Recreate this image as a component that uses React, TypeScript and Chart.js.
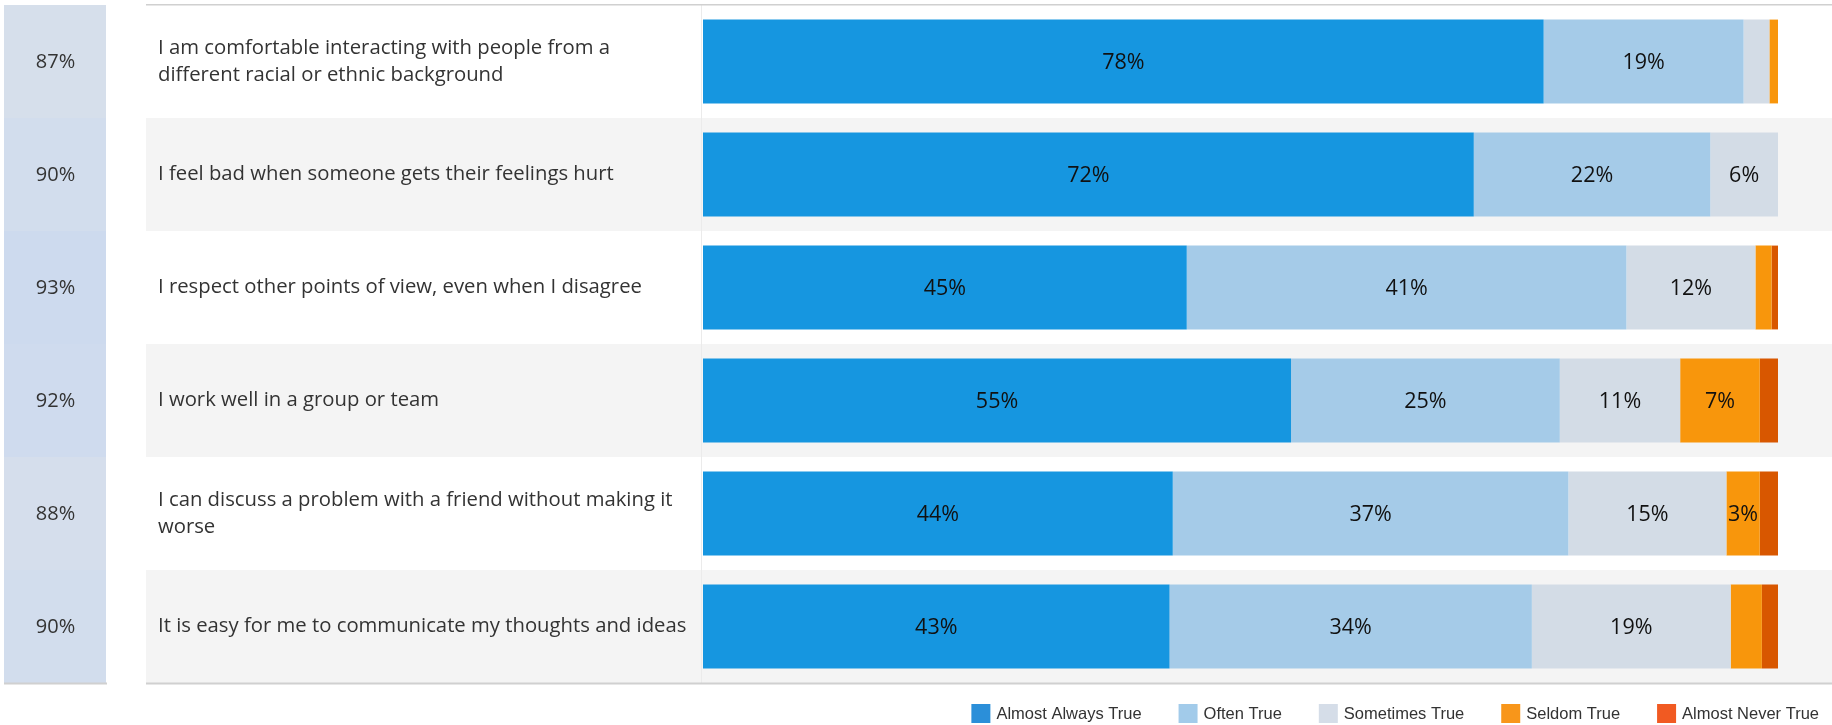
import React, { useEffect, useRef } from "react";
import { Chart, registerables } from "chart.js";

Chart.register(...registerables);

// ---------- data ----------
const categories: string[][] = [
  ["I am comfortable interacting with people from a", "different racial or ethnic background"],
  ["I feel bad when someone gets their feelings hurt"],
  ["I respect other points of view, even when I disagree"],
  ["I work well in a group or team"],
  ["I can discuss a problem with a friend without making it", "worse"],
  ["It is easy for me to communicate my thoughts and ideas"],
];
const overallPercent = [87, 90, 93, 92, 88, 90];

const almostAlwaysTrue = [78.2, 71.7, 45.0, 54.7, 43.7, 43.4];
const oftenTrue = [18.6, 22.0, 40.9, 25.0, 36.8, 33.7];
const sometimesTrue = [2.4, 6.3, 12.0, 11.2, 14.7, 18.5];
const seldomTrue = [0.8, 0, 1.5, 7.4, 3.1, 2.9];
const almostNeverTrue = [0, 0, 0.6, 1.7, 1.7, 1.5];

const seriesNames = ["Almost Always True", "Often True", "Sometimes True", "Seldom True", "Almost Never True"];
const seriesValues = [almostAlwaysTrue, oftenTrue, sometimesTrue, seldomTrue, almostNeverTrue];
const seriesColors = ["#1696e0", "#a5cbe8", "#d3dce6", "#f8960c", "#d85700"];
const legendColors = ["#2b8fd9", "#a2cbea", "#d5dde8", "#f8961a", "#f15a22"];

const LABEL_MIN = 3; // segments below this share get no label

// ---------- layout constants ----------
const W = 1832;
const H = 725;
const BAND_LEFT = 146;
const LEFT_PANEL = { x0: 4, x1: 106 };
const TEXT_FONT = "'Open Sans', 'Noto Sans', sans-serif";
const LEGEND_FONT = "'Liberation Sans', Arial, sans-serif";

function mix(a: string, b: string, t: number) {
  const pa = [1, 3, 5].map((i) => parseInt(a.slice(i, i + 2), 16));
  const pb = [1, 3, 5].map((i) => parseInt(b.slice(i, i + 2), 16));
  const c = pa.map((v, i) => Math.round(v + (pb[i] - v) * t));
  return `rgb(${c[0]},${c[1]},${c[2]})`;
}

const backgroundPlugin = {
  id: "bands",
  beforeDraw(chart: any) {
    const { ctx, chartArea } = chart;
    const ys = chart.scales.y;
    const n = categories.length;
    const half = (ys.getPixelForValue(1) - ys.getPixelForValue(0)) / 2;
    ctx.save();
    ctx.fillStyle = "#ffffff";
    ctx.fillRect(0, 0, W, H);
    const minV = Math.min(...overallPercent);
    const maxV = Math.max(...overallPercent);
    for (let i = 0; i < n; i++) {
      const c = ys.getPixelForValue(i);
      const top = c - half;
      const bot = c + half;
      if (i % 2 === 1) {
        ctx.fillStyle = "#f4f4f4";
        ctx.fillRect(BAND_LEFT, top, W - BAND_LEFT, bot - top);
      }
      const t = (overallPercent[i] - minV) / (maxV - minV || 1);
      ctx.fillStyle = mix("#d6dfeb", "#cddaee", t);
      ctx.fillRect(LEFT_PANEL.x0, Math.floor(top), LEFT_PANEL.x1 - LEFT_PANEL.x0, Math.ceil(bot) - Math.floor(top));
    }
    // vertical divider between labels and bars
    ctx.fillStyle = "#ebebeb";
    ctx.fillRect(chartArea.left - 2, chartArea.top, 1, chartArea.bottom - chartArea.top);
    // top and bottom rules
    ctx.fillStyle = "#d0d0d0";
    ctx.fillRect(BAND_LEFT, chartArea.top - 1, W - BAND_LEFT, 1.5);
    ctx.fillRect(BAND_LEFT, chartArea.bottom - 0.5, W - BAND_LEFT, 2);
    ctx.fillRect(LEFT_PANEL.x0, chartArea.bottom - 0.5, LEFT_PANEL.x1 - LEFT_PANEL.x0 + 1, 2);
    ctx.restore();
  },
};

const overlayPlugin = {
  id: "overlay",
  afterDatasetsDraw(chart: any) {
    const { ctx } = chart;
    ctx.save();
    ctx.font = `21.5px ${TEXT_FONT}`;
    ctx.fillStyle = "#111111";
    ctx.textAlign = "center";
    ctx.textBaseline = "middle";
    chart.data.datasets.forEach((ds: any, di: number) => {
      const meta = chart.getDatasetMeta(di);
      meta.data.forEach((bar: any, i: number) => {
        const v = ds.data[i];
        if (v < LABEL_MIN) return;
        const cx = (bar.x + bar.base) / 2;
        ctx.fillText(`${Math.round(v)}%`, cx, bar.y + 1);
      });
    });
    ctx.restore();
  },
  afterDraw(chart: any) {
    const { ctx } = chart;
    const ys = chart.scales.y;
    ctx.save();
    // left column percentages
    ctx.font = `20px ${TEXT_FONT}`;
    ctx.fillStyle = "#333333";
    ctx.textAlign = "center";
    ctx.textBaseline = "middle";
    overallPercent.forEach((v, i) => {
      ctx.fillText(`${v}%`, (LEFT_PANEL.x0 + LEFT_PANEL.x1) / 2 + 0.5, ys.getPixelForValue(i) + 1);
    });
    // legend (right aligned)
    ctx.font = `16.5px ${LEGEND_FONT}`;
    ctx.textAlign = "left";
    const box = 19;
    const textGap = 6;
    const itemGap = 37;
    const right = 1819;
    const legendY = 713.5;
    let x = right;
    const pos: number[] = [];
    for (let i = seriesNames.length - 1; i >= 0; i--) {
      const tw = ctx.measureText(seriesNames[i]).width;
      x -= tw + textGap + box;
      pos[i] = x;
      x -= itemGap;
    }
    seriesNames.forEach((name, i) => {
      ctx.fillStyle = legendColors[i];
      ctx.fillRect(pos[i], legendY - box / 2, box, box);
      ctx.fillStyle = "#333333";
      ctx.fillText(name, pos[i] + box + textGap, legendY + 1);
    });
    ctx.restore();
  },
};

export default function App() {
  const ref = useRef<HTMLCanvasElement>(null);
  useEffect(() => {
    const canvas = ref.current;
    if (!canvas) return;
    const chart = new Chart(canvas, {
      type: "bar",
      data: {
        labels: categories,
        datasets: seriesNames.map((name, i) => ({
          label: name,
          data: seriesValues[i],
          backgroundColor: seriesColors[i],
          borderWidth: 0,
          barPercentage: 0.742,
          categoryPercentage: 1,
        })),
      },
      options: {
        indexAxis: "y",
        responsive: false,
        animation: false,
        devicePixelRatio: 1,
        layout: { padding: { left: 158, top: 5, bottom: 42, right: 54 } },
        plugins: {
          legend: { display: false },
          tooltip: { enabled: false },
        },
        scales: {
          x: {
            stacked: true,
            min: 0,
            max: 100,
            display: false,
          },
          y: {
            stacked: true,
            grid: { display: false },
            border: { display: false },
            ticks: {
              crossAlign: "far",
              padding: 0,
              color: "#333333",
              font: { family: TEXT_FONT, size: 20.3, lineHeight: 1.33 },
            },
            afterFit(scale: any) {
              scale.width = 703 - 158;
              scale.paddingTop = 0;
              scale.paddingBottom = 0;
            },
          },
        },
      } as any,
      plugins: [backgroundPlugin, overlayPlugin],
    });
    return () => chart.destroy();
  }, []);
  return (
    <div style={{ position: "absolute", left: 0, top: 0, width: W, height: H, background: "#fff" }}>
      <canvas ref={ref} width={W} height={H} style={{ display: "block", width: W, height: H }} />
    </div>
  );
}
